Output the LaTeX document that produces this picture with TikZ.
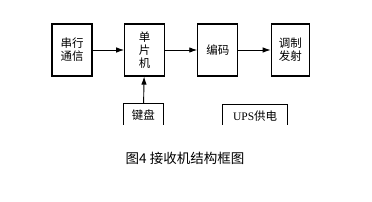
\documentclass[tikz,border=0pt]{standalone}
\usepackage{fontspec}
\setmainfont{Liberation Serif}
\newfontfamily\cjk{Noto Sans CJK SC}
\usetikzlibrary{arrows.meta, positioning}

\begin{document}
\begin{tikzpicture}[x=1pt, y=-1pt,
  block/.style={rectangle, draw=black, line width=1.1pt, minimum width=40pt,
                minimum height=52pt, inner sep=0pt, align=center,
                font=\cjk\fontsize{11.5}{13}\selectfont},
  lowbox/.style={block, minimum height=23pt, anchor=north},
  arrow/.style={-{Latex[length=8pt, width=5.5pt]}, line width=0.9pt}
]
\useasboundingbox (0,0) rectangle (372,201);
\begin{scope}
\clip (0,0) rectangle (372,124);
\node[block] (uart) at (72,50) {串行\\通信};
\node[block, right=31.6pt of uart] (mcu) {单\\片\\机};
\node[block, right=32pt of mcu] (enc) {编码};
\node[block, minimum width=38.5pt, right=32.3pt of enc] (mod) {调制\\发射};
\node[lowbox] (key) at (143.3,103.3) {键盘};
\node[lowbox, minimum width=65pt, font=\fontsize{11.5}{13}\selectfont] (ups) at (255.1,104) {UPS{\cjk 供电}};
\end{scope}

\draw[arrow] (uart) -- (mcu);
\draw[arrow] (mcu) -- (enc);
\draw[arrow] (enc) -- (mod);
\draw[arrow] (key) -- (mcu);

\node[font=\cjk\fontsize{13.5}{15}\selectfont] (cap) at (185,158) {图4 接收机结构框图};
\end{tikzpicture}
\end{document}
